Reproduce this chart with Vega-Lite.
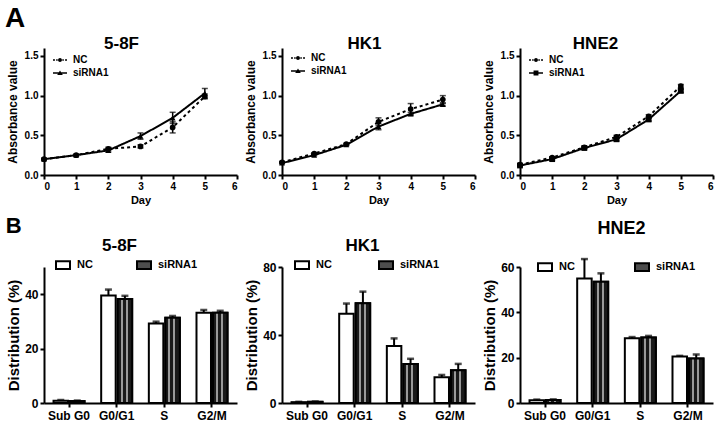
{
  "$schema": "https://vega.github.io/schema/vega-lite/v6.json",
  "padding": {"left": 5, "top": 5, "right": 2, "bottom": 2},
  "background": "white",
  "config": {
    "font": "Liberation Sans",
    "view": {"stroke": null},
    "axis": {"domainColor": "black", "domainWidth": 2, "tickColor": "black", "tickWidth": 2, "tickSize": 4, "labelColor": "black", "labelFont": "Liberation Sans", "labelFontWeight": "bold", "titleFont": "Liberation Sans", "titleFontWeight": "bold", "titleColor": "black", "grid": false, "labelPadding": 2, "labelOverlap": false},
    "title": {"font": "Liberation Sans", "fontWeight": "bold", "color": "black"},
    "legend": {"labelFont": "Liberation Sans", "labelFontWeight": "bold", "labelColor": "black"}
  },
  "spacing": 9,
  "resolve": {"scale": {"shape": "independent", "strokeDash": "independent", "fill": "independent"}, "legend": {"shape": "independent", "fill": "independent", "strokeDash": "independent"}},
  "vconcat": [
    {
      "title": {"text": "A", "fontSize": 28, "anchor": "start", "frame": "bounds", "dx": -1, "offset": 2},
      "bounds": "flush",
      "spacing": 45,
      "resolve": {"scale": {"shape": "independent", "strokeDash": "independent"}, "legend": {"shape": "independent", "strokeDash": "independent"}},
      "hconcat": [
        {
          "width": 193, "height": 127,
          "title": {"text": "5-8F", "fontSize": 17, "frame": "group", "dx": -19, "offset": -5},
          "data": {"values": [
            {"day": 0, "series": "NC", "value": 0.20, "err": 0.01},
            {"day": 1, "series": "NC", "value": 0.25, "err": 0.01},
            {"day": 2, "series": "NC", "value": 0.33, "err": 0.02},
            {"day": 3, "series": "NC", "value": 0.36, "err": 0.02},
            {"day": 4, "series": "NC", "value": 0.60, "err": 0.07},
            {"day": 5, "series": "NC", "value": 0.99, "err": 0.03},
            {"day": 0, "series": "siRNA1", "value": 0.20, "err": 0.01},
            {"day": 1, "series": "siRNA1", "value": 0.25, "err": 0.01},
            {"day": 2, "series": "siRNA1", "value": 0.31, "err": 0.02},
            {"day": 3, "series": "siRNA1", "value": 0.49, "err": 0.04},
            {"day": 4, "series": "siRNA1", "value": 0.72, "err": 0.07},
            {"day": 5, "series": "siRNA1", "value": 1.03, "err": 0.06}
          ]},
          "encoding": {"x": {"field": "day", "type": "quantitative", "scale": {"domain": [0, 6], "nice": false}, "axis": {"values": [0, 1, 2, 3, 4, 5, 6], "format": "d", "title": "Day", "titleFontSize": 11, "labelFontSize": 10, "titlePadding": 3}}},
          "layer": [
            {"mark": {"type": "errorbar", "ticks": {"size": 6}, "thickness": 1.5, "color": "black"}, "encoding": {"y": {"field": "value", "type": "quantitative", "scale": {"domain": [0, 1.5]}, "title": "Absorbance value", "axis": {"values": [0, 0.5, 1, 1.5], "format": ".1f", "titleFontSize": 12, "labelFontSize": 10, "titlePadding": 5}}, "yError": {"field": "err"}, "detail": {"field": "series"}}},
            {"mark": {"type": "line", "color": "black", "strokeWidth": 2}, "encoding": {"y": {"field": "value", "type": "quantitative", "title": "Absorbance value"}, "strokeDash": {"field": "series", "type": "nominal", "scale": {"domain": ["siRNA1", "NC"], "range": [[1, 0], [3, 3]]}, "legend": null}}},
            {"transform": [{"filter": "datum.series === 'NC'"}], "mark": {"type": "point", "filled": true, "color": "black", "opacity": 1, "size": 32, "shape": "circle"}, "encoding": {"y": {"field": "value", "type": "quantitative", "title": "Absorbance value"}}},
            {"transform": [{"filter": "datum.series === 'siRNA1'"}], "mark": {"type": "point", "filled": true, "color": "black", "opacity": 1, "size": 34, "shape": "triangle-up"}, "encoding": {"y": {"field": "value", "type": "quantitative", "title": "Absorbance value"}}},
            {"mark": {"type": "point", "filled": true, "color": "black", "size": 196, "clip": true}, "encoding": {"x": {"datum": 0}, "y": {"datum": -1}, "shape": {"field": "series", "type": "nominal", "scale": {"domain": ["NC", "siRNA1"], "range": ["M-1,-0.1H-0.72V0.1H-1Z M-0.55,-0.1H-0.33V0.1H-0.55Z M0.33,-0.1H0.55V0.1H0.33Z M0.72,-0.1H1V0.1H0.72Z M0.28,0A0.28,0.28 0 1,1 -0.28,0A0.28,0.28 0 1,1 0.28,0Z", "M-1,-0.1H1V0.1H-1Z M-0.4,0.3L0,-0.35L0.4,0.3Z"]}, "legend": {"title": null, "orient": "none", "legendX": 8, "legendY": 4, "labelFontSize": 10, "symbolSize": 196, "symbolOpacity": 1, "symbolFillColor": "black", "rowPadding": 0, "labelOffset": 5, "padding": 0}}}}
          ]
        },
        {
          "width": 193, "height": 127,
          "title": {"text": "HK1", "fontSize": 17, "frame": "group", "dx": -14, "offset": -5},
          "data": {"values": [
            {"day": 0, "series": "NC", "value": 0.16, "err": 0.01},
            {"day": 1, "series": "NC", "value": 0.27, "err": 0.01},
            {"day": 2, "series": "NC", "value": 0.39, "err": 0.01},
            {"day": 3, "series": "NC", "value": 0.67, "err": 0.05},
            {"day": 4, "series": "NC", "value": 0.83, "err": 0.07},
            {"day": 5, "series": "NC", "value": 0.95, "err": 0.05},
            {"day": 0, "series": "siRNA1", "value": 0.15, "err": 0.01},
            {"day": 1, "series": "siRNA1", "value": 0.25, "err": 0.01},
            {"day": 2, "series": "siRNA1", "value": 0.38, "err": 0.01},
            {"day": 3, "series": "siRNA1", "value": 0.61, "err": 0.04},
            {"day": 4, "series": "siRNA1", "value": 0.77, "err": 0.02},
            {"day": 5, "series": "siRNA1", "value": 0.89, "err": 0.02}
          ]},
          "encoding": {"x": {"field": "day", "type": "quantitative", "scale": {"domain": [0, 6], "nice": false}, "axis": {"values": [0, 1, 2, 3, 4, 5, 6], "format": "d", "title": "Day", "titleFontSize": 11, "labelFontSize": 10, "titlePadding": 3}}},
          "layer": [
            {"mark": {"type": "errorbar", "ticks": {"size": 6}, "thickness": 1.5, "color": "black"}, "encoding": {"y": {"field": "value", "type": "quantitative", "scale": {"domain": [0, 1.5]}, "title": "Absorbance value", "axis": {"values": [0, 0.5, 1, 1.5], "format": ".1f", "titleFontSize": 12, "labelFontSize": 10, "titlePadding": 5}}, "yError": {"field": "err"}, "detail": {"field": "series"}}},
            {"mark": {"type": "line", "color": "black", "strokeWidth": 2}, "encoding": {"y": {"field": "value", "type": "quantitative", "title": "Absorbance value"}, "strokeDash": {"field": "series", "type": "nominal", "scale": {"domain": ["siRNA1", "NC"], "range": [[1, 0], [3, 3]]}, "legend": null}}},
            {"transform": [{"filter": "datum.series === 'NC'"}], "mark": {"type": "point", "filled": true, "color": "black", "opacity": 1, "size": 32, "shape": "circle"}, "encoding": {"y": {"field": "value", "type": "quantitative", "title": "Absorbance value"}}},
            {"transform": [{"filter": "datum.series === 'siRNA1'"}], "mark": {"type": "point", "filled": true, "color": "black", "opacity": 1, "size": 34, "shape": "triangle-up"}, "encoding": {"y": {"field": "value", "type": "quantitative", "title": "Absorbance value"}}},
            {"mark": {"type": "point", "filled": true, "color": "black", "size": 196, "clip": true}, "encoding": {"x": {"datum": 0}, "y": {"datum": -1}, "shape": {"field": "series", "type": "nominal", "scale": {"domain": ["NC", "siRNA1"], "range": ["M-1,-0.1H-0.72V0.1H-1Z M-0.55,-0.1H-0.33V0.1H-0.55Z M0.33,-0.1H0.55V0.1H0.33Z M0.72,-0.1H1V0.1H0.72Z M0.28,0A0.28,0.28 0 1,1 -0.28,0A0.28,0.28 0 1,1 0.28,0Z", "M-1,-0.1H1V0.1H-1Z M-0.4,0.3L0,-0.35L0.4,0.3Z"]}, "legend": {"title": null, "orient": "none", "legendX": 8, "legendY": 2, "labelFontSize": 10, "symbolSize": 196, "symbolOpacity": 1, "symbolFillColor": "black", "rowPadding": 0, "labelOffset": 5, "padding": 0}}}}
          ]
        },
        {
          "width": 193, "height": 127,
          "title": {"text": "HNE2", "fontSize": 17, "frame": "group", "dx": -21, "offset": -5},
          "data": {"values": [
            {"day": 0, "series": "NC", "value": 0.13, "err": 0.01},
            {"day": 1, "series": "NC", "value": 0.22, "err": 0.01},
            {"day": 2, "series": "NC", "value": 0.35, "err": 0.01},
            {"day": 3, "series": "NC", "value": 0.48, "err": 0.02},
            {"day": 4, "series": "NC", "value": 0.74, "err": 0.02},
            {"day": 5, "series": "NC", "value": 1.12, "err": 0.02},
            {"day": 0, "series": "siRNA1", "value": 0.12, "err": 0.01},
            {"day": 1, "series": "siRNA1", "value": 0.20, "err": 0.01},
            {"day": 2, "series": "siRNA1", "value": 0.34, "err": 0.01},
            {"day": 3, "series": "siRNA1", "value": 0.45, "err": 0.02},
            {"day": 4, "series": "siRNA1", "value": 0.70, "err": 0.02},
            {"day": 5, "series": "siRNA1", "value": 1.06, "err": 0.02}
          ]},
          "encoding": {"x": {"field": "day", "type": "quantitative", "scale": {"domain": [0, 6], "nice": false}, "axis": {"values": [0, 1, 2, 3, 4, 5, 6], "format": "d", "title": "Day", "titleFontSize": 11, "labelFontSize": 10, "titlePadding": 3}}},
          "layer": [
            {"mark": {"type": "errorbar", "ticks": {"size": 6}, "thickness": 1.5, "color": "black"}, "encoding": {"y": {"field": "value", "type": "quantitative", "scale": {"domain": [0, 1.5]}, "title": "Absorbance value", "axis": {"values": [0, 0.5, 1, 1.5], "format": ".1f", "titleFontSize": 12, "labelFontSize": 10, "titlePadding": 5}}, "yError": {"field": "err"}, "detail": {"field": "series"}}},
            {"mark": {"type": "line", "color": "black", "strokeWidth": 2}, "encoding": {"y": {"field": "value", "type": "quantitative", "title": "Absorbance value"}, "strokeDash": {"field": "series", "type": "nominal", "scale": {"domain": ["siRNA1", "NC"], "range": [[1, 0], [3, 3]]}, "legend": null}}},
            {"transform": [{"filter": "datum.series === 'NC'"}], "mark": {"type": "point", "filled": true, "color": "black", "opacity": 1, "size": 32, "shape": "circle"}, "encoding": {"y": {"field": "value", "type": "quantitative", "title": "Absorbance value"}}},
            {"transform": [{"filter": "datum.series === 'siRNA1'"}], "mark": {"type": "point", "filled": true, "color": "black", "opacity": 1, "size": 34, "shape": "square"}, "encoding": {"y": {"field": "value", "type": "quantitative", "title": "Absorbance value"}}},
            {"mark": {"type": "point", "filled": true, "color": "black", "size": 196, "clip": true}, "encoding": {"x": {"datum": 0}, "y": {"datum": -1}, "shape": {"field": "series", "type": "nominal", "scale": {"domain": ["NC", "siRNA1"], "range": ["M-1,-0.1H-0.72V0.1H-1Z M-0.55,-0.1H-0.33V0.1H-0.55Z M0.33,-0.1H0.55V0.1H0.33Z M0.72,-0.1H1V0.1H0.72Z M0.28,0A0.28,0.28 0 1,1 -0.28,0A0.28,0.28 0 1,1 0.28,0Z", "M-1,-0.1H1V0.1H-1Z M-0.35,-0.35H0.35V0.35H-0.35Z"]}, "legend": {"title": null, "orient": "none", "legendX": 8, "legendY": 4, "labelFontSize": 10, "symbolSize": 196, "symbolOpacity": 1, "symbolFillColor": "black", "rowPadding": 0, "labelOffset": 5, "padding": 0}}}}
          ]
        }
      ]
    },
    {
      "title": {"text": "B", "fontSize": 22, "anchor": "start", "frame": "bounds", "dx": -1, "offset": 2, "dy": 20},
      "bounds": "flush",
      "spacing": 45,
      "resolve": {"scale": {"fill": "independent"}, "legend": {"fill": "independent"}},
      "hconcat": [
        {
          "width": 193, "height": 136,
          "title": {"text": "5-8F", "fontSize": 17, "frame": "group", "dx": -21, "offset": 2},
          "data": {"values": [
            {"phase": "Sub G0", "series": "NC", "value": 0.8, "hi": 1.1},
            {"phase": "G0/G1", "series": "NC", "value": 39.5, "hi": 41.7},
            {"phase": "S", "series": "NC", "value": 29.2, "hi": 29.9},
            {"phase": "G2/M", "series": "NC", "value": 33.2, "hi": 34.2},
            {"phase": "Sub G0", "series": "siRNA1", "value": 0.7, "hi": 0.9},
            {"phase": "G0/G1", "series": "siRNA1", "value": 38.2, "hi": 39.4},
            {"phase": "S", "series": "siRNA1", "value": 31.3, "hi": 32.0},
            {"phase": "G2/M", "series": "siRNA1", "value": 33.2, "hi": 33.9}
          ]},
          "encoding": {
            "x": {"field": "phase", "type": "nominal", "sort": ["Sub G0", "G0/G1", "S", "G2/M"], "scale": {"paddingInner": 0.35, "paddingOuter": 0.2}, "axis": {"title": null, "labelAngle": 0, "labelFontSize": 12, "labelPadding": 3}},
            "xOffset": {"field": "series", "type": "nominal", "sort": ["NC", "siRNA1"], "scale": {"paddingInner": 0.12}}
          },
          "layer": [
            {"mark": {"type": "rule", "color": "black", "strokeWidth": 2}, "encoding": {"y": {"field": "value", "type": "quantitative", "scale": {"domain": [0, 50]}, "title": "Distribution (%)", "axis": {"values": [0, 10, 20, 30, 40, 50], "labelOverlap": false, "titleFontSize": 15, "labelFontSize": 12, "titlePadding": 3}}, "y2": {"field": "hi"}}},
            {"mark": {"type": "tick", "color": "black", "thickness": 2.5, "size": 7}, "encoding": {"y": {"field": "hi", "type": "quantitative", "title": "Distribution (%)"}}},
            {"mark": {"type": "bar", "stroke": "black", "strokeWidth": 2}, "encoding": {"y": {"field": "value", "type": "quantitative", "title": "Distribution (%)"}, "fill": {"field": "series", "type": "nominal", "scale": {"domain": ["NC", "siRNA1"], "range": ["white", "#4d4d4d"]}, "legend": {"title": null, "orient": "none", "direction": "horizontal", "legendX": 11, "legendY": -10, "columns": 2, "columnPadding": 40, "symbolType": "M-1,-0.55L1,-0.55L1,0.55L-1,0.55Z", "symbolSize": 196, "symbolStrokeColor": "black", "symbolStrokeWidth": 2, "labelFontSize": 11, "labelOffset": 6, "padding": 0}}}},
            {"transform": [{"filter": "datum.series === 'siRNA1'"}], "mark": {"type": "bar", "stroke": "black", "strokeWidth": 2, "fill": {"gradient": "linear", "x1": 0, "y1": 0, "x2": 1, "y2": 0, "stops": [{"offset": 0, "color": "#1a1a1a"}, {"offset": 0.2, "color": "#1a1a1a"}, {"offset": 0.2, "color": "#9a9a9a"}, {"offset": 0.35, "color": "#9a9a9a"}, {"offset": 0.35, "color": "#1a1a1a"}, {"offset": 0.55, "color": "#1a1a1a"}, {"offset": 0.55, "color": "#9a9a9a"}, {"offset": 0.7, "color": "#9a9a9a"}, {"offset": 0.7, "color": "#1a1a1a"}, {"offset": 1, "color": "#1a1a1a"}]}}, "encoding": {"y": {"field": "value", "type": "quantitative", "title": "Distribution (%)"}}}
          ]
        },
        {
          "width": 193, "height": 136,
          "title": {"text": "HK1", "fontSize": 17, "frame": "group", "dx": -16, "offset": 2},
          "data": {"values": [
            {"phase": "Sub G0", "series": "NC", "value": 0.5, "hi": 0.7},
            {"phase": "G0/G1", "series": "NC", "value": 52.5, "hi": 58.5},
            {"phase": "S", "series": "NC", "value": 33.5, "hi": 38.0},
            {"phase": "G2/M", "series": "NC", "value": 15.2, "hi": 16.5},
            {"phase": "Sub G0", "series": "siRNA1", "value": 0.7, "hi": 0.9},
            {"phase": "G0/G1", "series": "siRNA1", "value": 58.7, "hi": 65.5},
            {"phase": "S", "series": "siRNA1", "value": 23.0, "hi": 26.0},
            {"phase": "G2/M", "series": "siRNA1", "value": 19.2, "hi": 23.0}
          ]},
          "encoding": {
            "x": {"field": "phase", "type": "nominal", "sort": ["Sub G0", "G0/G1", "S", "G2/M"], "scale": {"paddingInner": 0.35, "paddingOuter": 0.2}, "axis": {"title": null, "labelAngle": 0, "labelFontSize": 12, "labelPadding": 3}},
            "xOffset": {"field": "series", "type": "nominal", "sort": ["NC", "siRNA1"], "scale": {"paddingInner": 0.12}}
          },
          "layer": [
            {"mark": {"type": "rule", "color": "black", "strokeWidth": 2}, "encoding": {"y": {"field": "value", "type": "quantitative", "scale": {"domain": [0, 80]}, "title": "Distribution (%)", "axis": {"values": [0, 20, 40, 60, 80], "labelOverlap": false, "titleFontSize": 15, "labelFontSize": 12, "titlePadding": 3}}, "y2": {"field": "hi"}}},
            {"mark": {"type": "tick", "color": "black", "thickness": 2.5, "size": 7}, "encoding": {"y": {"field": "hi", "type": "quantitative", "title": "Distribution (%)"}}},
            {"mark": {"type": "bar", "stroke": "black", "strokeWidth": 2}, "encoding": {"y": {"field": "value", "type": "quantitative", "title": "Distribution (%)"}, "fill": {"field": "series", "type": "nominal", "scale": {"domain": ["NC", "siRNA1"], "range": ["white", "#4d4d4d"]}, "legend": {"title": null, "orient": "none", "direction": "horizontal", "legendX": 12, "legendY": -10, "columns": 2, "columnPadding": 43, "symbolType": "M-1,-0.55L1,-0.55L1,0.55L-1,0.55Z", "symbolSize": 196, "symbolStrokeColor": "black", "symbolStrokeWidth": 2, "labelFontSize": 11, "labelOffset": 6, "padding": 0}}}},
            {"transform": [{"filter": "datum.series === 'siRNA1'"}], "mark": {"type": "bar", "stroke": "black", "strokeWidth": 2, "fill": {"gradient": "linear", "x1": 0, "y1": 0, "x2": 1, "y2": 0, "stops": [{"offset": 0, "color": "#1a1a1a"}, {"offset": 0.2, "color": "#1a1a1a"}, {"offset": 0.2, "color": "#9a9a9a"}, {"offset": 0.35, "color": "#9a9a9a"}, {"offset": 0.35, "color": "#1a1a1a"}, {"offset": 0.55, "color": "#1a1a1a"}, {"offset": 0.55, "color": "#9a9a9a"}, {"offset": 0.7, "color": "#9a9a9a"}, {"offset": 0.7, "color": "#1a1a1a"}, {"offset": 1, "color": "#1a1a1a"}]}}, "encoding": {"y": {"field": "value", "type": "quantitative", "title": "Distribution (%)"}}}
          ]
        },
        {
          "width": 193, "height": 136,
          "title": {"text": "HNE2", "fontSize": 18, "frame": "group", "dx": 5, "offset": 20},
          "data": {"values": [
            {"phase": "Sub G0", "series": "NC", "value": 1.2, "hi": 1.5},
            {"phase": "G0/G1", "series": "NC", "value": 54.9, "hi": 63.5},
            {"phase": "S", "series": "NC", "value": 28.6, "hi": 29.1},
            {"phase": "G2/M", "series": "NC", "value": 20.5, "hi": 20.8},
            {"phase": "Sub G0", "series": "siRNA1", "value": 1.3, "hi": 1.6},
            {"phase": "G0/G1", "series": "siRNA1", "value": 53.5, "hi": 57.2},
            {"phase": "S", "series": "siRNA1", "value": 28.9, "hi": 29.6},
            {"phase": "G2/M", "series": "siRNA1", "value": 19.6, "hi": 21.4}
          ]},
          "encoding": {
            "x": {"field": "phase", "type": "nominal", "sort": ["Sub G0", "G0/G1", "S", "G2/M"], "scale": {"paddingInner": 0.35, "paddingOuter": 0.2}, "axis": {"title": null, "labelAngle": 0, "labelFontSize": 12, "labelPadding": 3}},
            "xOffset": {"field": "series", "type": "nominal", "sort": ["NC", "siRNA1"], "scale": {"paddingInner": 0.12}}
          },
          "layer": [
            {"mark": {"type": "rule", "color": "black", "strokeWidth": 2}, "encoding": {"y": {"field": "value", "type": "quantitative", "scale": {"domain": [0, 60]}, "title": "Distribution (%)", "axis": {"values": [0, 20, 40, 60], "labelOverlap": false, "titleFontSize": 15, "labelFontSize": 12, "titlePadding": 3}}, "y2": {"field": "hi"}}},
            {"mark": {"type": "tick", "color": "black", "thickness": 2.5, "size": 7}, "encoding": {"y": {"field": "hi", "type": "quantitative", "title": "Distribution (%)"}}},
            {"mark": {"type": "bar", "stroke": "black", "strokeWidth": 2}, "encoding": {"y": {"field": "value", "type": "quantitative", "title": "Distribution (%)"}, "fill": {"field": "series", "type": "nominal", "scale": {"domain": ["NC", "siRNA1"], "range": ["white", "#4d4d4d"]}, "legend": {"title": null, "orient": "none", "direction": "horizontal", "legendX": 17, "legendY": -8, "columns": 2, "columnPadding": 56, "symbolType": "M-1,-0.55L1,-0.55L1,0.55L-1,0.55Z", "symbolSize": 196, "symbolStrokeColor": "black", "symbolStrokeWidth": 2, "labelFontSize": 11, "labelOffset": 6, "padding": 0}}}},
            {"transform": [{"filter": "datum.series === 'siRNA1'"}], "mark": {"type": "bar", "stroke": "black", "strokeWidth": 2, "fill": {"gradient": "linear", "x1": 0, "y1": 0, "x2": 1, "y2": 0, "stops": [{"offset": 0, "color": "#1a1a1a"}, {"offset": 0.2, "color": "#1a1a1a"}, {"offset": 0.2, "color": "#9a9a9a"}, {"offset": 0.35, "color": "#9a9a9a"}, {"offset": 0.35, "color": "#1a1a1a"}, {"offset": 0.55, "color": "#1a1a1a"}, {"offset": 0.55, "color": "#9a9a9a"}, {"offset": 0.7, "color": "#9a9a9a"}, {"offset": 0.7, "color": "#1a1a1a"}, {"offset": 1, "color": "#1a1a1a"}]}}, "encoding": {"y": {"field": "value", "type": "quantitative", "title": "Distribution (%)"}}}
          ]
        }
      ]
    }
  ]
}
